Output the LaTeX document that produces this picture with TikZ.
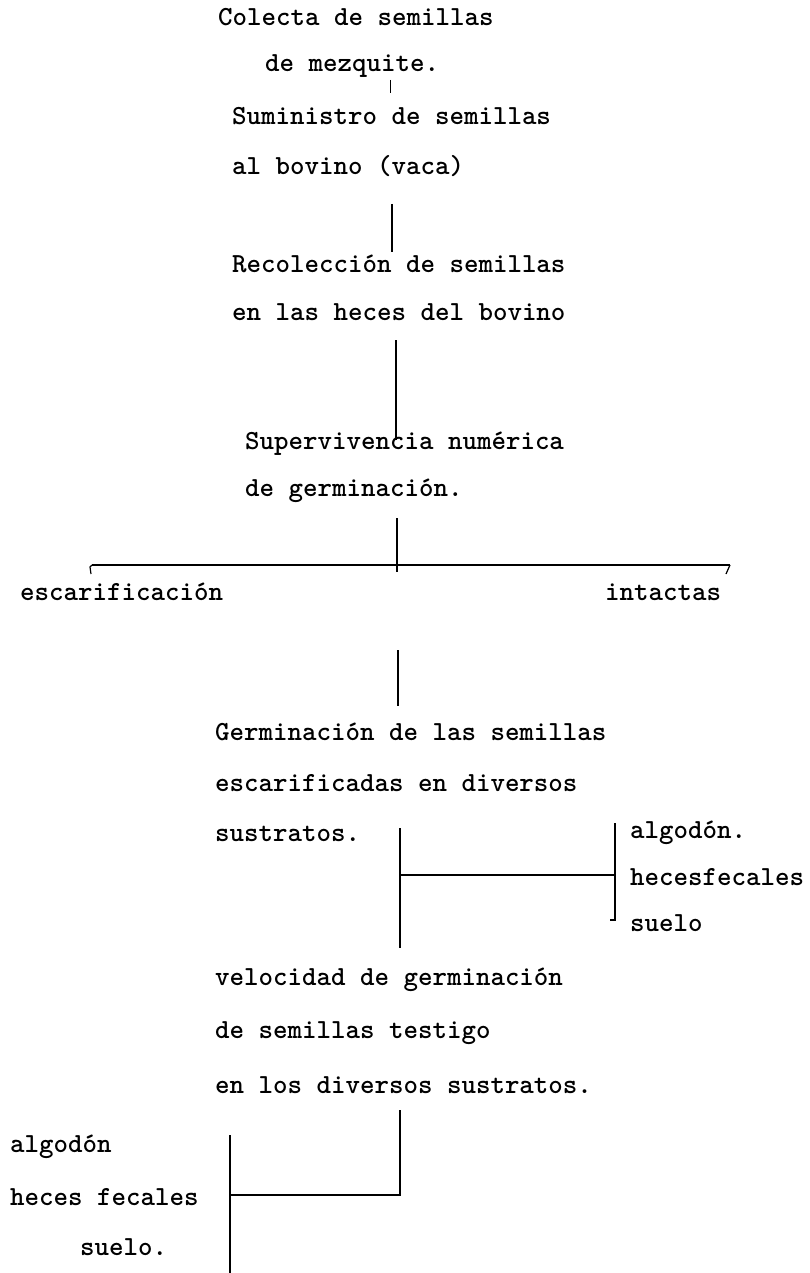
\documentclass[tikz,border=0pt]{standalone}
\usepackage{fontspec}
\begin{document}
\begin{tikzpicture}[x=1pt,y=-1pt,
  txt/.style={anchor=west, inner sep=0pt, font=\ttfamily\bfseries\fontsize{27.6}{30}\selectfont},
  ln/.style={line width=1.6pt, line cap=butt}]
\useasboundingbox (0,0) rectangle (810,1273);
% text
\node[txt] (t1) at (218,17) {Colecta de semillas};
\node[txt] (t2) at (265,66) {de mezquite.};
\node[txt] (t3) at (232,116) {Suministro de semillas};
\node[txt] (t4) at (232,166) {al bovino (vaca)};
\node[txt] (t5) at (232,264) {Recolecci\'on de semillas};
\node[txt] (t6) at (232,312) {en las heces del bovino};
\node[txt] (t7) at (245,444) {Supervivencia num\'erica};
\node[txt] (t8) at (245,491) {de germinaci\'on.};
\node[txt] (esc) at (20,592) {escarificaci\'on};
\node[txt] (int) at (605,592) {intactas};
\node[txt] (g1) at (215,732) {Germinaci\'on de las semillas};
\node[txt] (g2) at (215,783) {escarificadas en diversos};
\node[txt] (g3) at (215,834) {sustratos.};
\node[txt] (r1) at (630,833) {algod\'on.};
\node[txt] (r2) at (630,877) {hecesfecales};
\node[txt] (r3) at (630,923) {suelo};
\node[txt] (v1) at (215,980) {velocidad de germinaci\'on};
\node[txt] (v2) at (215,1033) {de semillas testigo};
\node[txt] (v3) at (215,1085) {en los diversos sustratos.};
\node[txt] (l1) at (10,1147) {algod\'on};
\node[txt] (l2) at (10,1197) {heces fecales};
\node[txt] (l3) at (80,1247) {suelo.};
% connector points
\coordinate (a1) at (390,80);  \coordinate (a2) at (390,93);
\coordinate (b1) at (392,204); \coordinate (b2) at (392,252);
\coordinate (c1) at (396,340); \coordinate (c2) at (396,440);
\coordinate (d1) at (397,518); \coordinate (d2) at (397,572);
\coordinate (hl) at (92,565);  \coordinate (hr) at (730,565);
\coordinate (e1) at (398,650); \coordinate (e2) at (398,706);
\coordinate (f1) at (400,828); \coordinate (f2) at (400,948);
\coordinate (fm) at (400,875); \coordinate (fr) at (615,875);
\coordinate (k1) at (615,823); \coordinate (k2) at (615,920);
\coordinate (m1) at (400,1110); \coordinate (m2) at (400,1195);
\coordinate (n1) at (230,1195);
\coordinate (p1) at (230,1135); \coordinate (p2) at (230,1273);
% connectors
\draw[ln, line width=1pt] (a1) -- (a2);
\draw[ln] (b1) -- (b2);
\draw[ln] (c1) -- (c2);
\draw[ln] (d1) -- (d2);
\draw[ln] (hl) -- (hr);
\draw[ln, line width=1.2pt] (hl) -- ++(-2,2) -- ++(1,7);
\draw[ln, line width=1.2pt] (hr) -- ++(-4,9);
\draw[ln] (e1) -- (e2);
\draw[ln] (f1) -- (f2);
\draw[ln] (fm) -- (fr);
\draw[ln] (k1) -- (k2) -- ++(-5,0);
\draw[ln] (m1) -- (m2) -- (n1);
\draw[ln] (p1) -- (p2);
\end{tikzpicture}
\end{document}
